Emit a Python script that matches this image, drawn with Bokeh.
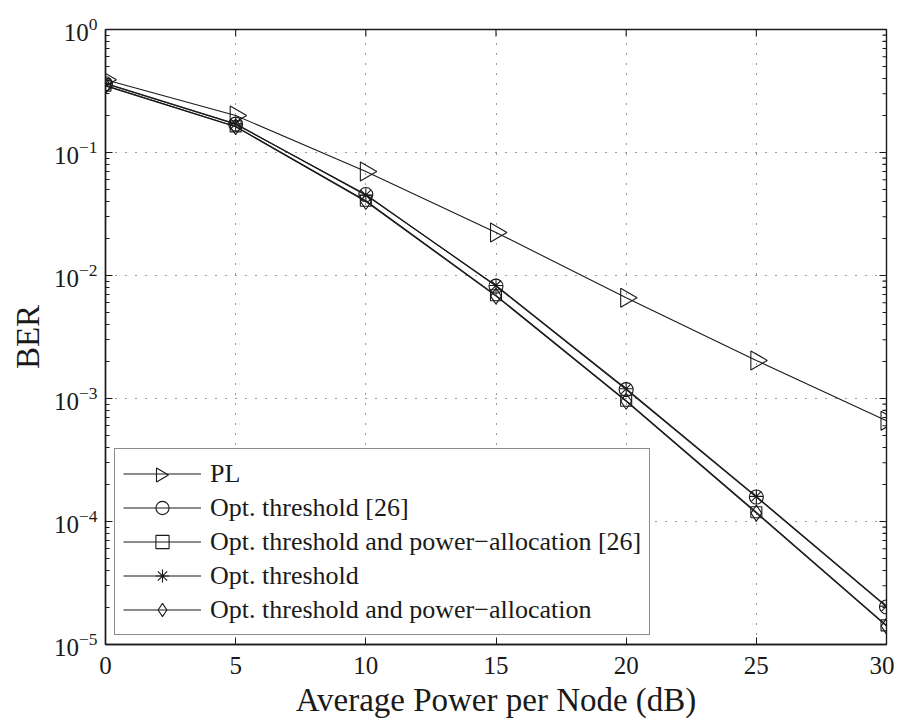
import numpy as np
from bokeh.plotting import figure
from bokeh.models import FixedTicker, Legend, LegendItem, Range1d, PolyAnnotation
from bokeh.embed import file_html
from bokeh.resources import INLINE

snr_db = [0, 5, 10, 15, 20, 25, 30]
ber_pl = [0.39, 0.20, 0.070, 0.0224, 0.0066, 0.00204, 0.00066]
ber_opt_thr_26 = [0.362, 0.170, 0.0455, 0.0082, 0.00118, 0.000158, 2.02e-5]
ber_opt_thr_pa_26 = [0.350, 0.163, 0.0405, 0.0069, 0.00096, 0.000119, 1.43e-5]
ber_opt_thr = [0.365, 0.171, 0.0450, 0.0083, 0.00120, 0.000160, 2.05e-5]
ber_opt_thr_pa = [0.348, 0.162, 0.0400, 0.0068, 0.00095, 0.000117, 1.41e-5]
x_ticks = [0, 5, 10, 15, 20, 25, 30]
y_ticks = [1e-5, 1e-4, 1e-3, 1e-2, 1e-1, 1]

FONT = "Liberation Serif"
INK = "#1a1a1a"

# layout (screen px)
FL, FT, FW, FH = 105, 29, 781, 615
LEG_OFF, LEG_PAD, LEG_GH, LEG_GW, LEG_SP, LEG_W = 9, 8, 33, 78, 1, 536

p = figure(frame_width=FW, frame_height=FH, y_axis_type="log",
           x_range=Range1d(0, 30), y_range=Range1d(1e-5, 1),
           output_backend="svg", toolbar_location=None,
           min_border_left=FL, min_border_top=FT, min_border_right=8, min_border_bottom=76)
p.background_fill_color = "white"
p.border_fill_color = "white"
p.outline_line_color = INK
p.outline_line_width = 1.4

for g in (p.xgrid, p.ygrid):
    g.grid_line_color = "#333333"
    g.grid_line_dash = "1 9"
    g.grid_line_width = 1
p.ygrid.minor_grid_line_color = None

def style_axis(ax):
    ax.axis_line_color = INK
    ax.axis_line_width = 1.4
    ax.major_tick_line_color = INK
    ax.minor_tick_line_color = INK
    ax.major_tick_in = 7
    ax.major_tick_out = 0
    ax.minor_tick_in = 4
    ax.minor_tick_out = 0
    ax.major_label_text_font = FONT
    ax.major_label_text_font_size = "25px"
    ax.major_label_text_color = INK
    ax.axis_label_text_font = FONT
    ax.axis_label_text_font_size = "33px"
    ax.axis_label_text_font_style = "normal"
    ax.axis_label_text_color = INK

p.xaxis.ticker = FixedTicker(ticks=x_ticks)
p.xaxis.axis_label = "Average Power per Node (dB)"
p.xaxis.major_label_standoff = 12
p.xaxis.axis_label_standoff = 5
p.yaxis.axis_label = "BER"
p.yaxis.major_label_standoff = 8
p.yaxis.axis_label_standoff = 5
p.yaxis.ticker.num_minor_ticks = 10
for ax in p.xaxis + p.yaxis:
    style_axis(ax)
p.xaxis.minor_tick_line_color = None

# legend geometry (screen units of annotations: origin at frame bottom-left, y up)
n_items = 5
leg_h = 2 * LEG_PAD + n_items * LEG_GH + (n_items - 1) * LEG_SP
# white backing of the legend box, drawn over the grid but under the data
backing = PolyAnnotation(xs=[LEG_OFF, LEG_OFF + LEG_W, LEG_OFF + LEG_W, LEG_OFF],
                         ys=[LEG_OFF, LEG_OFF, LEG_OFF + leg_h, LEG_OFF + leg_h],
                         xs_units="screen", ys_units="screen",
                         line_color=None, fill_color="white", fill_alpha=1,
                         level="underlay")
p.add_layout(backing)

# inward ticks on the top and right edges of the box (clipped to the frame)
y_minor = [m * k for m in y_ticks[:-1] for k in range(2, 10)]
p.scatter([x_ticks[-1]] * len(y_ticks), y_ticks, marker="dash", size=14,
          line_color=INK, line_width=1.1)
p.scatter([x_ticks[-1]] * len(y_minor), y_minor, marker="dash", size=8,
          line_color=INK, line_width=1.1)
p.scatter(x_ticks, [y_ticks[-1]] * len(x_ticks), marker="dash", size=14,
          angle=np.pi / 2, line_color=INK, line_width=1.1)

series = [
    ("PL", ber_pl, "triangle", 19, -np.pi / 2),
    ("Opt. threshold [26]", ber_opt_thr_26, "circle", 14, 0),
    ("Opt. threshold and power\u2212allocation [26]", ber_opt_thr_pa_26, "square", 11, 0),
    ("Opt. threshold", ber_opt_thr, "asterisk", 14, 0),
    ("Opt. threshold and power\u2212allocation", ber_opt_thr_pa, "diamond", 16, 0),
]

items = []
for label, ys, marker, size, ang in series:
    lr = p.line(snr_db, ys, line_color=INK, line_width=1.1)
    sr = p.scatter(snr_db, ys, marker=marker, size=size, angle=ang,
                   line_color=INK, line_width=1.1, fill_color=None)
    # legend cannot rotate markers: the right-pointing triangle is drawn separately
    items.append(LegendItem(label=label, renderers=[lr] if ang else [lr, sr]))

legend = Legend(items=items, location=(LEG_OFF, LEG_OFF))
legend.label_text_font = FONT
legend.label_text_font_size = "26px"
legend.label_text_color = INK
legend.glyph_height = LEG_GH
legend.glyph_width = LEG_GW
legend.label_height = LEG_GH
legend.spacing = LEG_SP
legend.padding = LEG_PAD
legend.label_standoff = 9
legend.border_line_color = INK
legend.border_line_width = 1.4
legend.background_fill_alpha = 0
p.add_layout(legend, "center")

# right-pointing triangle in the first legend row
cx = LEG_OFF + LEG_PAD + LEG_GW / 2
cy = LEG_OFF + leg_h - LEG_PAD - LEG_GH / 2
tri = PolyAnnotation(xs=[cx - 5, cx + 7, cx - 5], ys=[cy + 7, cy, cy - 7],
                     xs_units="screen", ys_units="screen",
                     line_color=INK, line_alpha=1, line_width=1.1,
                     fill_color=None, fill_alpha=0, level="overlay")
p.add_layout(tri)

open("out.html", "w").write(file_html(p, INLINE))
